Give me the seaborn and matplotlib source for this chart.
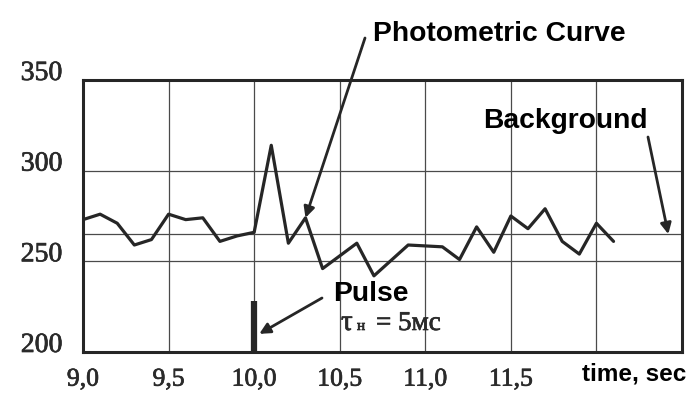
import matplotlib
matplotlib.use('Agg')
import matplotlib.pyplot as plt
import matplotlib.patheffects as pe
import pandas as pd
import seaborn as sns

# Photometric curve (time in s, signal in counts)
time_s = [9.0, 9.1, 9.2, 9.3, 9.4, 9.5, 9.6, 9.7, 9.8, 9.9,
          10.0, 10.1, 10.2, 10.3, 10.4, 10.6, 10.7, 10.9,
          11.1, 11.2, 11.3, 11.4, 11.5, 11.6, 11.7, 11.8, 11.9, 12.0, 12.1]
signal = [273, 276, 271, 259, 262, 276, 273, 274, 261, 264,
          266, 314, 260, 274, 246, 260, 242, 259,
          258, 251, 269, 255, 275, 268, 279, 261, 254, 271, 261]

background_level = 265
pulse_time = 10.0
pulse_range = [200, 228]

x_ticks = [9.0, 9.5, 10.0, 10.5, 11.0, 11.5, 12.0, 12.5]
x_labels = ['9,0', '9,5', '10,0', '10,5', '11,0', '11,5', '', '']
y_ticks = [200, 250, 300, 350]

W, H = 689, 398


def px(x, y):
    # figure pixel (from top-left) -> figure fraction
    return (x / W, 1 - y / H)


def main():
    sns.set_style('white')
    plt.rcParams['font.family'] = ['Liberation Sans', 'DejaVu Sans']

    df = pd.DataFrame({'time': time_s, 'signal': signal})

    fig = plt.figure(figsize=(W / 100, H / 100), dpi=100)
    ax = fig.add_axes([83 / W, (H - 352) / H, (682 - 83) / W, (352 - 80) / H])

    ink = '#262626'
    for v in x_ticks[1:-1]:
        ax.axvline(v, color='#4a4a4a', lw=0.9, zorder=1)
    for v in y_ticks[1:-1]:
        ax.axhline(v, color='#4a4a4a', lw=0.9, zorder=1)
    ax.axhline(background_level, color='#4a4a4a', lw=0.9, zorder=1)

    sns.lineplot(data=df, x='time', y='signal', ax=ax, color=ink,
                 lw=2.3, zorder=3)
    ax.vlines(pulse_time, pulse_range[0], pulse_range[1], color=ink,
              lw=4.5, zorder=3)

    ax.set_xlim(9.0, 12.5)
    ax.set_ylim(200, 350)
    ax.set_xticks(x_ticks)
    ax.set_xticklabels(x_labels)
    ax.set_yticks(y_ticks)
    ax.set_xlabel('')
    ax.set_ylabel('')
    ax.tick_params(length=0, colors='#2a2a2a')
    ax.tick_params(axis='x', pad=12, labelsize=18.5)
    ax.tick_params(axis='y', pad=15, labelsize=20)
    thick = [pe.withStroke(linewidth=0.5, foreground='#2a2a2a')]
    for lab in ax.get_xticklabels() + ax.get_yticklabels():
        lab.set_family(['Liberation Serif', 'DejaVu Serif'])
        lab.set_path_effects(thick)
    for lab in ax.get_yticklabels():
        lab.set_verticalalignment('baseline')

    for s in ax.spines.values():
        s.set_visible(True)
        s.set_linewidth(2.2)
        s.set_color(ink)

    arrow = dict(arrowstyle='-|>', lw=2.0, color=ink, mutation_scale=16,
                 shrinkA=0, shrinkB=0)
    ax.annotate('', xy=(10.3, 274), xycoords='data', xytext=px(365, 38),
                textcoords='figure fraction', arrowprops=arrow,
                annotation_clip=False)
    ax.annotate('', xy=(12.42, background_level), xycoords='data',
                xytext=px(648, 137), textcoords='figure fraction',
                arrowprops=arrow, annotation_clip=False)
    ax.annotate('', xy=(10.03, 210), xycoords='data', xytext=px(322, 298),
                textcoords='figure fraction', arrowprops=arrow,
                annotation_clip=False)

    bold = dict(fontsize=20.3, fontweight='bold', color='black',
                va='baseline', ha='left')
    fig.text(*px(373, 41), 'Photometric Curve', **bold)
    fig.text(*px(483, 128), 'Background', **bold)
    fig.text(*px(333, 301), 'Pulse', **bold)
    fig.text(*px(582, 380), 'time, sec', fontsize=17.5, fontweight='bold',
             color='black', va='baseline', ha='left')

    serif = ['Liberation Serif', 'DejaVu Serif']
    sym = dict(family=serif, color='#2a2a2a', va='baseline', ha='left',
               path_effects=thick)
    fig.text(*px(341, 330), 'τ', fontsize=21, **sym)
    fig.text(*px(357, 330), 'н', fontsize=11, **sym)
    fig.text(*px(376, 330), '= 5мс', fontsize=19.5, **sym)

    fig.savefig('out.png', dpi=100)


if __name__ == "__main__":
    main()
